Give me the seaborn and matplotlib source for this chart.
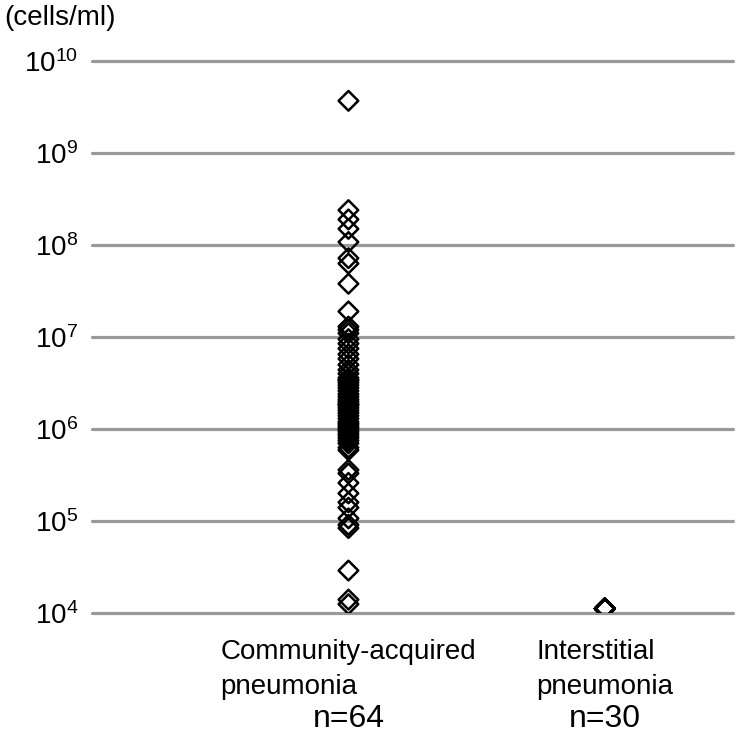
import pandas as pd
import matplotlib
matplotlib.use("Agg")
import matplotlib.pyplot as plt
import matplotlib.transforms as mtransforms
import seaborn as sns

# values (cells/ml)
cap_counts = [3.7e9, 2.4e8, 1.9e8, 1.5e8, 1.08e8, 7.2e7, 6.3e7, 3.8e7, 1.9e7, 1.3e7, 1.2e7,
              1.1e7, 9.5e6, 8.5e6, 7.5e6, 6.5e6, 5.8e6, 5.0e6, 4.4e6, 4.0e6, 3.6e6,
              3.4e6, 3.4e6, 3.2e6, 3.0e6, 2.8e6, 2.6e6, 2.4e6, 2.25e6, 2.1e6, 2.0e6,
              1.9e6, 1.85e6, 1.8e6, 1.7e6, 1.6e6, 1.5e6, 1.4e6, 1.3e6, 1.2e6, 1.15e6,
              1.1e6, 1.05e6, 1.0e6, 9.5e5, 9.0e5, 8.5e5, 8.0e5, 7.5e5, 7.0e5,
              6.3e5, 5.9e5, 3.6e5, 3.3e5, 2.6e5, 2.0e5, 1.6e5, 1.4e5, 1.07e5, 9.1e4, 8.4e4,
              2.9e4, 1.4e4, 1.25e4]
ip_counts = [1.12e4] * 30

groups = ["Community-acquired\npneumonia", "Interstitial\npneumonia"]
n_labels = ["n=64", "n=30"]

df = pd.DataFrame({
    "group": [groups[0]] * len(cap_counts) + [groups[1]] * len(ip_counts),
    "count": cap_counts + ip_counts,
})

sns.set_style("white")
plt.rcParams["font.family"] = ["Liberation Sans", "DejaVu Sans"]
plt.rcParams["text.color"] = "black"
plt.rcParams["xtick.color"] = "black"
plt.rcParams["ytick.color"] = "black"

fig = plt.figure(figsize=(7.39, 7.36), dpi=100)
ax = fig.add_axes([0.1245, 0.167, 0.8675, 0.75])

sns.stripplot(data=df, x="group", y="count", order=groups, jitter=False,
              marker="D", size=10, linewidth=1.8, edgecolor="black",
              color="white", ax=ax)
for coll in ax.collections:
    coll.set_facecolor("none")

ax.set_yscale("log")
ax.set_ylim(1e4, 1e10)
ax.set_xlim(-1.0, 1.5)
ax.set_axisbelow(True)
ax.yaxis.grid(True, color="#9a9a9a", linewidth=2.3)
ax.xaxis.grid(False)
sns.despine(ax=ax, left=True, bottom=True)
ax.tick_params(axis="both", length=0, labelsize=20, labelcolor="black")
ax.tick_params(axis="y", pad=10)
ax.set_yticks([1e4, 1e5, 1e6, 1e7, 1e8, 1e9, 1e10])
ax.minorticks_off()
for gl in ax.get_ygridlines():
    gl.set_clip_on(False)
ax.set_xlabel("")
ax.set_ylabel("")

for lab in ax.get_xticklabels():
    lab.set_multialignment("left")
    lab.set_verticalalignment("top")
    lab.set_linespacing(1.45)
ax.tick_params(axis="x", pad=19)

trans = mtransforms.blended_transform_factory(ax.transData, fig.transFigure)
for i, t in enumerate(n_labels):
    ax.text(i, 0.023, t, transform=trans, ha="center", va="center", fontsize=23)

fig.text(0.006, 0.976, "(cells/ml)", ha="left", va="center", fontsize=20)

fig.savefig("out.png", dpi=100)
